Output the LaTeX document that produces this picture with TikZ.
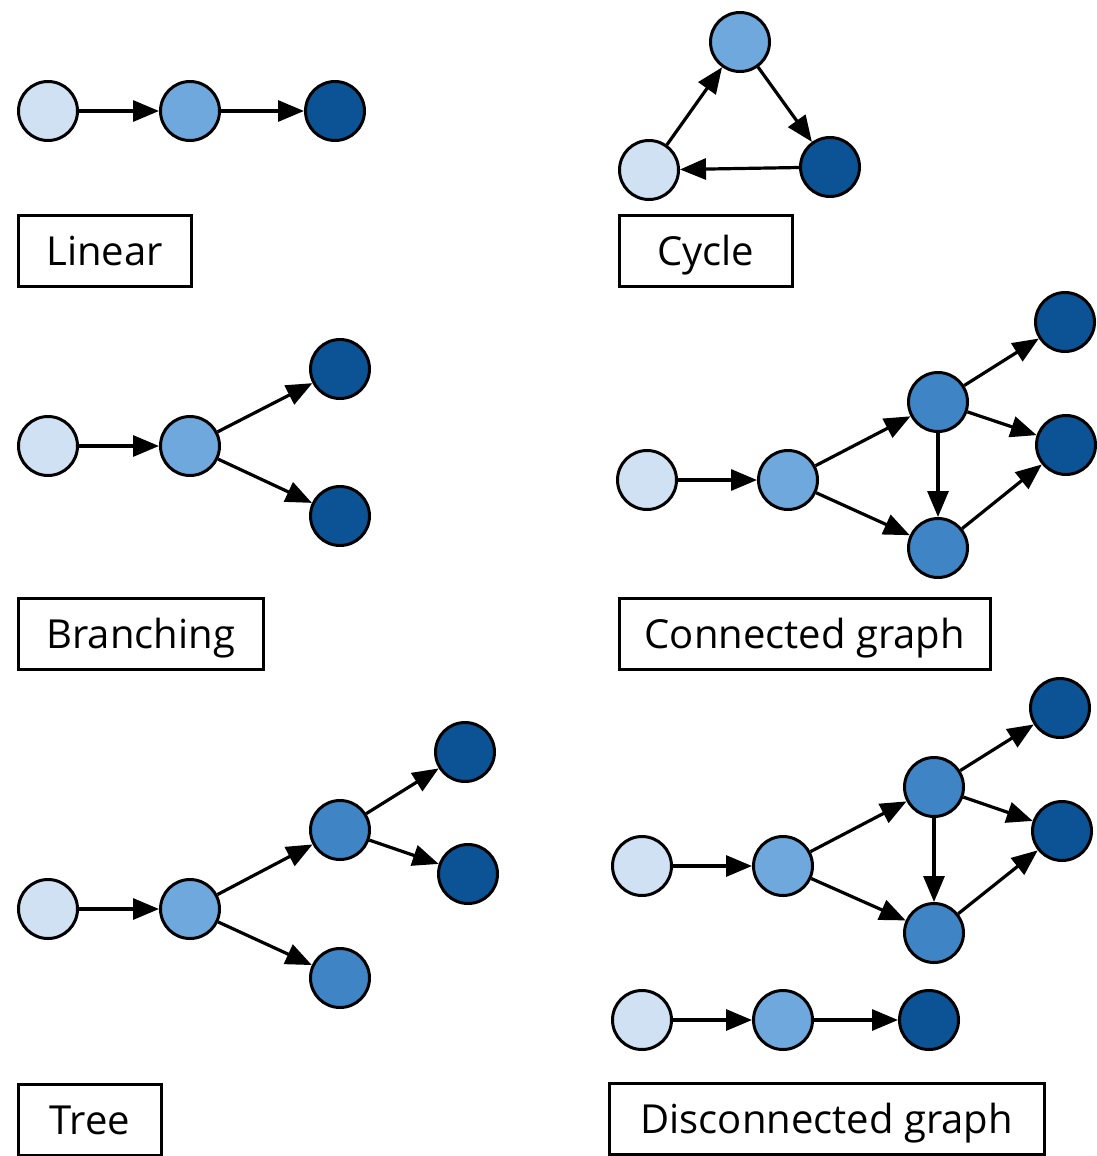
\documentclass[tikz,border=0pt]{standalone}
\usepackage{fontspec}
\setmainfont{Open Sans}
\usetikzlibrary{arrows.meta}
\definecolor{cLight}{HTML}{CFE1F3}
\definecolor{cMid}{HTML}{6FA8DC}
\definecolor{cMidd}{HTML}{3F85C6}
\definecolor{cDark}{HTML}{0B5394}
\tikzset{
  vtx/.style={circle, draw=black, line width=3pt, minimum size=59pt, inner sep=0pt},
  vl/.style={vtx, fill=cLight},
  vm/.style={vtx, fill=cMid},
  vmm/.style={vtx, fill=cMidd},
  vd/.style={vtx, fill=cDark},
  lbl/.style={draw=black, line width=2.5pt, anchor=west, inner sep=0pt, minimum height=71pt,
    text height=28pt, text depth=0pt, font=\fontsize{40}{44}\selectfont},
  edge/.style={line width=3.2pt, -{Triangle[length=26pt,width=21pt]}},
}
\begin{document}
\begin{tikzpicture}[x=1pt,y=-1pt]
\useasboundingbox (0,0) rectangle (1097,1156);
% Linear
\node[vl] (a1) at (48,111) {};
\node[vm] (a2) at (190,111) {};
\node[vd] (a3) at (335,111) {};
\draw[edge] (a1) -- (a2);
\draw[edge] (a2) -- (a3);
\node[lbl, minimum width=173pt] (la) at (17,251) {Linear};
% Cycle
\node[vm] (b1) at (740,42) {};
\node[vl] (b2) at (649,170) {};
\node[vd] (b3) at (830,167) {};
\draw[edge] (b2) -- (b1);
\draw[edge] (b1) -- (b3);
\draw[edge] (b3) -- (b2);
\node[lbl, minimum width=173pt] (lb) at (618,251) {Cycle};
% Branching
\node[vl] (c1) at (48,446) {};
\node[vm] (c2) at (190,446) {};
\node[vd] (c3) at (340,369) {};
\node[vd] (c4) at (340,516) {};
\draw[edge] (c1) -- (c2);
\draw[edge] (c2) -- (c3);
\draw[edge] (c2) -- (c4);
\node[lbl, minimum width=245pt] (lc) at (17,634) {Branching};
% Connected graph
\node[vl] (d1) at (647,480) {};
\node[vm] (d2) at (788,480) {};
\node[vmm] (d3) at (938,402) {};
\node[vmm] (d4) at (938,548) {};
\node[vd] (d5) at (1065,322) {};
\node[vd] (d6) at (1066,445) {};
\draw[edge] (d1) -- (d2);
\draw[edge] (d2) -- (d3);
\draw[edge] (d2) -- (d4);
\draw[edge] (d3) -- (d5);
\draw[edge] (d3) -- (d6);
\draw[edge] (d3) -- (d4);
\draw[edge] (d4) -- (d6);
\node[lbl, minimum width=371pt] (ld) at (618,634) {Connected graph};
% Tree
\node[vl] (e1) at (48,909) {};
\node[vm] (e2) at (190,909) {};
\node[vmm] (e3) at (340,830) {};
\node[vmm] (e4) at (340,978) {};
\node[vd] (e5) at (465,752) {};
\node[vd] (e6) at (468,874) {};
\draw[edge] (e1) -- (e2);
\draw[edge] (e2) -- (e3);
\draw[edge] (e2) -- (e4);
\draw[edge] (e3) -- (e5);
\draw[edge] (e3) -- (e6);
\node[lbl, minimum width=143pt] (le) at (17,1120) {Tree};
% Disconnected graph
\node[vl] (f1) at (642,866) {};
\node[vm] (f2) at (783,866) {};
\node[vmm] (f3) at (934,787) {};
\node[vmm] (f4) at (934,933) {};
\node[vd] (f5) at (1060,708) {};
\node[vd] (f6) at (1062,831) {};
\draw[edge] (f1) -- (f2);
\draw[edge] (f2) -- (f3);
\draw[edge] (f2) -- (f4);
\draw[edge] (f3) -- (f5);
\draw[edge] (f3) -- (f6);
\draw[edge] (f3) -- (f4);
\draw[edge] (f4) -- (f6);
\node[vl] (g1) at (642,1020) {};
\node[vm] (g2) at (783,1020) {};
\node[vd] (g3) at (929,1020) {};
\draw[edge] (g1) -- (g2);
\draw[edge] (g2) -- (g3);
\node[lbl, minimum width=435pt] (lf) at (608,1119) {Disconnected graph};
\end{tikzpicture}
\end{document}
